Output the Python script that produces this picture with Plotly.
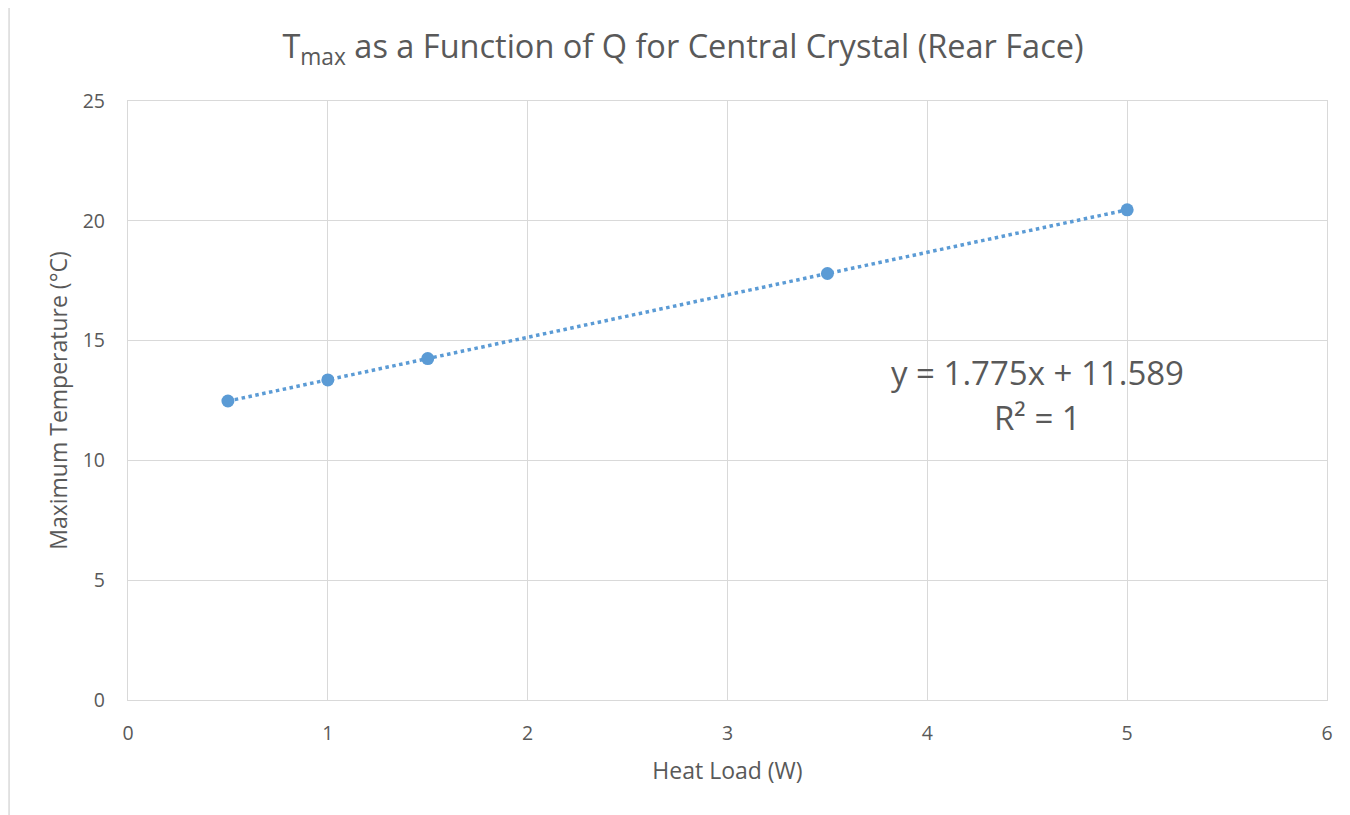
import numpy as np
import plotly.graph_objects as go

heat_load = [0.5, 1.0, 1.5, 3.5, 5.0]
max_temp = [12.48, 13.36, 14.25, 17.80, 20.46]
x_ticks = [0, 1, 2, 3, 4, 5, 6]
y_ticks = [0, 5, 10, 15, 20, 25]

slope, intercept = np.polyfit(heat_load, max_temp, 1)
trend_x = [min(heat_load), max(heat_load)]
trend_y = [slope * v + intercept for v in trend_x]

blue = "#5B9BD5"
txt = "#595959"
grid = "#D9D9D9"
font_family = "Open Sans, Noto Sans, Liberation Sans, sans-serif"

fig = go.Figure()
fig.add_trace(go.Scatter(x=trend_x, y=trend_y, mode="lines",
                         line=dict(color=blue, width=3.5, dash="dot"),
                         hoverinfo="skip", showlegend=False))
fig.add_trace(go.Scatter(x=heat_load, y=max_temp, mode="markers",
                         marker=dict(color=blue, size=13), showlegend=False))

fig.add_annotation(x=4.55, y=13.65, xref="x", yref="y", text="y = 1.775x + 11.589",
                   showarrow=False, font=dict(size=33, color=txt, family=font_family))
fig.add_annotation(x=4.55, y=11.8, xref="x", yref="y", text="R² = 1",
                   showarrow=False, font=dict(size=33, color=txt, family=font_family))

fig.add_shape(type="line", xref="paper", yref="paper", x0=-0.0992, x1=-0.0992, y0=-0.25, y1=1.2,
              line=dict(color=grid, width=1.5), layer="below")

fig.update_layout(
    width=1350, height=815,
    paper_bgcolor="white", plot_bgcolor="white",
    margin=dict(l=120, r=31, t=93, b=123),
    font=dict(family=font_family, color=txt),
    title=dict(text="T<sub>max</sub> as a Function of Q for Central Crystal (Rear Face)",
               x=0.5, xref="container", y=0.952, yref="container", xanchor="center", yanchor="middle",
               font=dict(size=32.5, color=txt, family=font_family)),
    xaxis=dict(range=[0, 6], tickvals=x_ticks, showgrid=True, gridcolor=grid, gridwidth=1.3,
               showline=True, linecolor=grid, linewidth=1.3, mirror=True, zeroline=False,
               ticks="", ticklabelstandoff=15, tickfont=dict(size=19.5, color=txt),
               title=dict(text="Heat Load (W)", font=dict(size=23, color=txt), standoff=18)),
    yaxis=dict(range=[0, 25], tickvals=y_ticks, showgrid=True, gridcolor=grid, gridwidth=1.3,
               showline=True, linecolor=grid, linewidth=1.3, mirror=True, zeroline=False,
               ticks="", ticklabelstandoff=18, tickfont=dict(size=19.5, color=txt),
               title=dict(text="Maximum Temperature (°C)", font=dict(size=23, color=txt), standoff=8)),
)

fig.write_html("out.html")
